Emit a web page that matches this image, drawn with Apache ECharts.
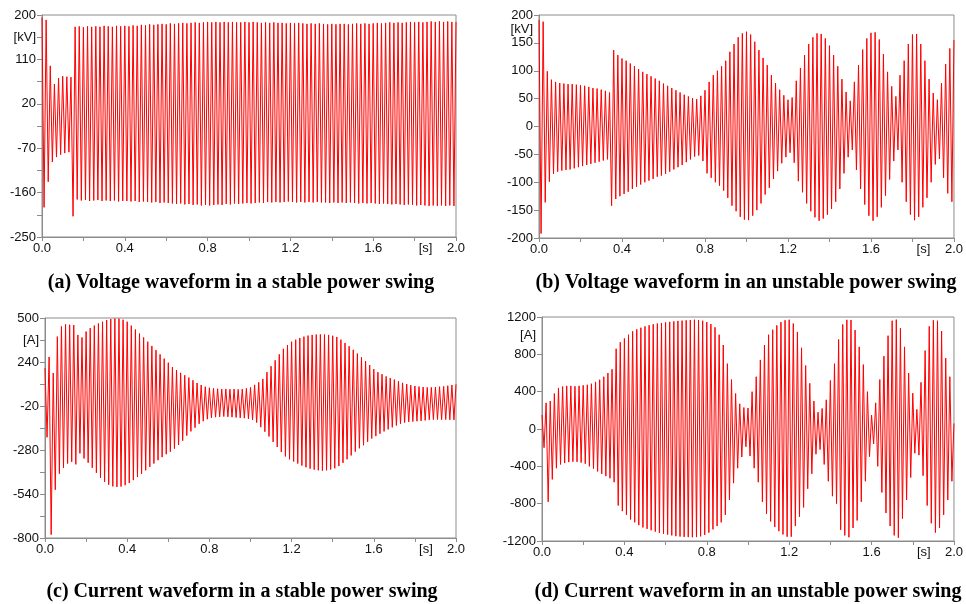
<!DOCTYPE html>
<html>
<head>
<meta charset="utf-8">
<script src="https://cdn.jsdelivr.net/npm/echarts@6/dist/echarts.min.js"></script>
<style>
html,body{margin:0;padding:0;background:#fff;}
#chart{width:966px;height:604px;}
</style>
</head>
<body>
<div id="chart"></div>
<script>
// 50 Hz waveform: one peak and one trough per 0.02 s cycle
const HALF_PERIOD = 0.01;

// (a) voltage, stable swing [kV]: peaks at t = 0.02k, troughs at t = 0.02k + 0.01
const aUpper = [195,190,97,60,72,76,75,74,176,177,
 175,177,176,177,176,178,177,176,178,177,
 178,177,179,178,180,179,181,180,181,182,
 181,183,182,183,184,183,184,185,184,185,
 186,185,186,185,186,185,186,185,185,186,
 185,186,185,184,185,184,185,184,184,183,
 184,183,184,183,182,183,182,183,182,181,
 182,181,182,182,181,182,183,182,183,182,
 183,184,183,184,185,184,185,184,185,186,
 185,186,185,186,187,186,187,186,187,186,
 186];
const aLower = [-190,-138,-98,-88,-83,-80,-78,-208,-174,-176,
 -175,-177,-176,-175,-177,-176,-177,-176,-178,-177,
 -177,-178,-177,-179,-178,-179,-180,-179,-181,-180,
 -181,-182,-183,-182,-184,-183,-185,-184,-186,-185,
 -186,-185,-184,-185,-183,-184,-182,-183,-182,-181,
 -182,-181,-180,-181,-179,-180,-179,-180,-179,-178,
 -179,-180,-179,-180,-179,-180,-179,-180,-180,-181,
 -180,-181,-180,-181,-180,-181,-182,-181,-182,-181,
 -182,-183,-182,-183,-184,-183,-184,-185,-184,-185,
 -186,-185,-186,-187,-186,-187,-186,-187,-186,-187];

// (b) voltage, unstable swing [kV]
const bUpper = [191,188,99,84,80,78,77,76,76,75,
 74,73,71,69,68,66,64,61,137,128,
 122,118,113,108,103,98,94,90,86,82,
 77,73,69,65,61,57,54,51,49,55,
 65,80,92,100,108,118,134,148,160,167,
 170,165,152,137,123,110,92,78,66,56,
 48,52,82,105,128,148,160,167,166,158,
 145,128,108,85,62,46,80,110,138,158,
 168,169,156,130,98,72,54,92,118,148,
 165,166,148,118,85,60,48,78,112,140,
 155];
const bLower = [-192,-136,-99,-85,-81,-79,-78,-77,-75,-73,
 -71,-69,-67,-65,-63,-61,-59,-142,-130,-125,
 -121,-117,-112,-108,-104,-100,-97,-94,-90,-88,
 -85,-81,-77,-73,-69,-64,-59,-54,-52,-62,
 -84,-92,-100,-106,-115,-128,-142,-152,-162,-167,
 -168,-160,-150,-138,-122,-110,-94,-80,-66,-55,
 -47,-65,-98,-118,-138,-152,-163,-169,-165,-158,
 -148,-135,-112,-84,-55,-42,-78,-112,-140,-160,
 -169,-162,-145,-124,-95,-62,-42,-100,-135,-158,
 -168,-162,-145,-128,-100,-68,-58,-92,-120,-135];

// (c) current, stable swing [A]
const cUpper = [205,270,175,390,450,462,460,458,400,385,
 420,440,455,468,478,488,494,497,496,490,
 478,455,432,408,385,360,335,310,285,260,
 236,210,192,176,162,148,132,116,104,94,
 88,84,82,80,81,79,80,78,80,84,
 90,105,120,140,180,215,250,285,318,340,
 360,372,382,390,396,400,402,403,402,400,
 395,388,372,352,333,312,290,268,245,222,
 198,180,168,155,145,136,126,117,110,103,
 98,95,92,90,90,92,94,96,100,104,
 108];
const cLower = [-205,-780,-515,-420,-385,-360,-350,-365,-300,-330,
 -355,-385,-415,-445,-468,-485,-495,-498,-496,-488,
 -475,-458,-440,-420,-400,-380,-360,-340,-322,-305,
 -290,-272,-250,-225,-195,-170,-148,-125,-110,-98,
 -90,-86,-84,-82,-84,-86,-88,-90,-92,-96,
 -102,-118,-145,-172,-200,-232,-262,-292,-318,-335,
 -348,-360,-372,-382,-390,-396,-400,-402,-400,-395,
 -388,-375,-356,-335,-312,-290,-270,-252,-232,-212,
 -198,-184,-170,-158,-146,-135,-125,-118,-114,-112,
 -110,-108,-105,-102,-100,-100,-101,-100,-101,-102];

// (d) current, unstable swing [A]
const dUpper = [150,280,300,380,440,455,462,462,458,462,
 468,474,485,505,528,560,600,640,860,930,
 970,1010,1046,1068,1085,1100,1112,1122,1130,1136,
 1142,1148,1153,1158,1161,1165,1168,1171,1168,1160,
 1145,1125,1090,1010,900,700,530,380,270,230,
 225,400,560,740,900,1010,1064,1110,1145,1165,
 1171,1130,1040,870,680,490,300,180,220,313,
 520,700,960,1120,1170,1168,1060,880,690,400,
 150,280,530,780,1000,1160,1172,1080,880,600,
 384,210,500,840,1100,1165,1160,1050,760,560,
 60];
const dLower = [-200,-780,-540,-420,-380,-365,-355,-350,-352,-360,
 -372,-400,-425,-455,-480,-505,-528,-570,-820,-880,
 -920,-970,-1000,-1030,-1055,-1070,-1085,-1100,-1112,-1122,
 -1132,-1140,-1148,-1152,-1156,-1158,-1160,-1158,-1150,-1135,
 -1110,-1075,-1040,-1000,-920,-760,-580,-420,-300,-190,
 -290,-420,-570,-780,-910,-990,-1050,-1095,-1130,-1154,
 -1154,-1040,-940,-840,-640,-480,-270,-220,-380,-560,
 -720,-800,-1080,-1140,-1160,-1060,-980,-780,-560,-296,
 -160,-400,-680,-900,-1040,-1140,-1165,-960,-760,-520,
 -260,-280,-500,-820,-1010,-1110,-1060,-920,-760,-560];

// axis tick labels
const xLabels = ['0.0','0.4','0.8','1.2','1.6','[s]','2.0'];
const aYLabels = ['-250','-160','-70','20','110','[kV]','200'];
const bYLabels = ['-200','-150','-100','-50','0','50','100','150','[kV]','200'];
const cYLabels = ['-800','-540','-280','-20','240','[A]','500'];
const dYLabels = ['-1200','-800','-400','0','400','800','[A]','1200'];

const captions = [
  '(a) Voltage waveform in a stable power swing',
  '(b) Voltage waveform in an unstable power swing',
  '(c) Current waveform in a stable power swing',
  '(d) Current waveform in an unstable power swing'
];

function wave(up, lo) {
  const pts = [];
  for (let k = 0; k < up.length; k++) {
    pts.push([+(2 * k * HALF_PERIOD).toFixed(3), up[k]]);
    if (k < lo.length) pts.push([+((2 * k + 1) * HALF_PERIOD).toFixed(3), lo[k]]);
  }
  return pts;
}

const GRAY = '#8c8c8c';
const TXT = '#111';
const FONT = 'Liberation Sans';

function xFmt(v) {
  const r = Math.round(v * 10);
  if (r === 18) return '{u|' + xLabels[5] + '}';
  if (r % 4 === 0) {
    const s = (r / 10).toFixed(1);
    return xLabels.indexOf(s) >= 0 ? s : '';
  }
  return '';
}
function makeYFmt(list) {
  return function (v) {
    const s = String(Math.round(v));
    return list.indexOf(s) >= 0 ? s : '';
  };
}
function unitFmt(list, at) {
  return function (v) { return Math.round(v) === at ? list.find(s => s.charAt(0) === '[') : ''; };
}

const grids = [
  {left: 42, top: 15, width: 414, height: 222},
  {left: 539, top: 15, width: 415, height: 223},
  {left: 45, top: 318, width: 411, height: 220},
  {left: 542, top: 317, width: 412, height: 224}
].map(g => Object.assign({show: true, borderColor: GRAY, borderWidth: 1, backgroundColor: 'transparent'}, g));

function xAxis(i) {
  return {
    type: 'value', gridIndex: i, min: 0, max: 2, interval: 0.2,
    axisLine: {show: true, onZero: false, lineStyle: {color: GRAY}},
    axisTick: {show: true, length: 4, lineStyle: {color: GRAY}},
    splitLine: {show: false},
    axisLabel: {
      color: TXT, fontFamily: FONT, fontSize: 13, margin: 5, formatter: xFmt,
      rich: {u: {color: TXT, fontFamily: FONT, fontSize: 13, padding: [0, 0, 0, 22]}}
    }
  };
}
function yAxis(i, min, max, interval, fmt, opts) {
  const base = {
    type: 'value', gridIndex: i, min: min, max: max, interval: interval, position: 'left',
    axisLine: {show: true, onZero: false, lineStyle: {color: GRAY}},
    axisTick: {show: true, length: 5, lineStyle: {color: GRAY}},
    splitLine: {show: false},
    axisLabel: {color: TXT, fontFamily: FONT, fontSize: 13, margin: 6, formatter: fmt,
                showMinLabel: true, showMaxLabel: true}
  };
  return Object.assign(base, opts || {});
}
function unitAxis(i, min, max, interval, fmt) {
  return yAxis(i, min, max, interval, fmt, {axisLine: {show: false, onZero: false}, axisTick: {show: false}});
}

function series(i, yi, data) {
  return {
    type: 'line', xAxisIndex: i, yAxisIndex: yi, data: data,
    showSymbol: false, symbol: 'none', silent: true, animation: false, clip: true,
    lineStyle: {color: '#ff0000', width: 1}
  };
}

const chart = echarts.init(document.getElementById('chart'), null, {renderer: 'canvas'});
chart.setOption({
  animation: false,
  backgroundColor: '#ffffff',
  grid: grids,
  xAxis: [xAxis(0), xAxis(1), xAxis(2), xAxis(3)],
  yAxis: [
    yAxis(0, -250, 200, 45, (v) => Math.round(v) === 155 ? aYLabels[5] : makeYFmt(aYLabels)(v)),
    yAxis(1, -200, 200, 50, makeYFmt(bYLabels)),
    unitAxis(1, -200, 200, 25, unitFmt(bYLabels, 175)),
    yAxis(2, -800, 500, 130, (v) => Math.round(v) === 370 ? cYLabels[5] : makeYFmt(cYLabels)(v)),
    yAxis(3, -1200, 1200, 400, makeYFmt(dYLabels)),
    unitAxis(3, -1200, 1200, 200, unitFmt(dYLabels, 1000))
  ],
  series: [
    series(0, 0, wave(aUpper, aLower)),
    series(1, 1, wave(bUpper, bLower)),
    series(2, 3, wave(cUpper, cLower)),
    series(3, 4, wave(dUpper, dLower))
  ],
  graphic: [
    {type: 'text', x: 241, y: 283, style: {text: captions[0], fill: '#000', font: 'bold 20px "Liberation Serif"', align: 'center', verticalAlign: 'middle'}},
    {type: 'text', x: 746, y: 283, style: {text: captions[1], fill: '#000', font: 'bold 20px "Liberation Serif"', align: 'center', verticalAlign: 'middle'}},
    {type: 'text', x: 242, y: 592, style: {text: captions[2], fill: '#000', font: 'bold 20px "Liberation Serif"', align: 'center', verticalAlign: 'middle'}},
    {type: 'text', x: 748, y: 592, style: {text: captions[3], fill: '#000', font: 'bold 20px "Liberation Serif"', align: 'center', verticalAlign: 'middle'}}
  ]
});
</script>
</body>
</html>
